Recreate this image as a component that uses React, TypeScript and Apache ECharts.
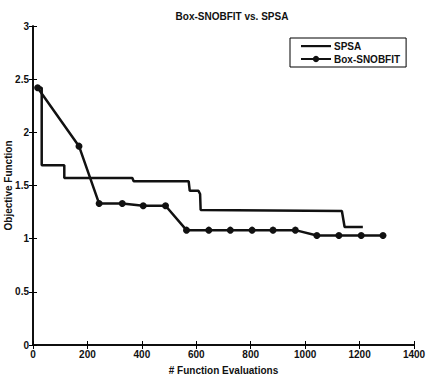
import React, { useEffect, useRef } from "react";
import * as echarts from "echarts";

const titleText = "Box-SNOBFIT vs. SPSA";
const xLabel = "# Function Evaluations";
const yLabel = "Objective Function";

const spsaX = [15, 32, 32, 115, 115, 365, 370, 572, 576, 608, 614, 616, 1135, 1145, 1212];
const spsaY = [2.42, 2.42, 1.69, 1.69, 1.57, 1.57, 1.54, 1.54, 1.45, 1.45, 1.42, 1.27, 1.26, 1.11, 1.11];

const boxX = [17, 169, 243, 328, 405, 487, 564, 646, 725, 805, 882, 964, 1043, 1124, 1206, 1286];
const boxY = [2.42, 1.87, 1.33, 1.33, 1.31, 1.31, 1.08, 1.08, 1.08, 1.08, 1.08, 1.08, 1.03, 1.03, 1.03, 1.03];

const FONT = "Liberation Sans, Arial, sans-serif";

export default function App() {
  const ref = useRef<HTMLDivElement>(null);
  useEffect(() => {
    if (!ref.current) return;
    const chart = echarts.init(ref.current, null, { renderer: "svg" });
    const axisLine = { show: true, lineStyle: { color: "#000", width: 1.5 } };
    const tick = { show: true, inside: true, length: 4, lineStyle: { color: "#000", width: 1 } };
    const labelStyle = { fontFamily: FONT, fontSize: 10, fontWeight: "bold", color: "#111" };
    chart.setOption({
      animation: false,
      backgroundColor: "#fff",
      title: {
        text: titleText,
        left: 227,
        textAlign: "center",
        top: 6,
        textStyle: { ...labelStyle },
      },
      legend: {
        left: 290,
        top: 38,
        orient: "vertical",
        backgroundColor: "#fff",
        borderColor: "#000",
        borderWidth: 1,
        borderRadius: 0,
        padding: [3, 6, 3, 10],
        itemGap: 3,
        itemWidth: 30,
        itemHeight: 8,
        textStyle: { ...labelStyle, padding: [0, 0, 0, -2] },
        data: [
          { name: "SPSA", icon: "path://M0,0 M30,8 M0,3 L30,3 L30,5.2 L0,5.2 Z" },
          { name: "Box-SNOBFIT" },
        ],
      },
      grid: { left: 33, right: 12, top: 26, bottom: 37, containLabel: false, outerBoundsMode: "none" },
      xAxis: [
        {
          type: "value",
          min: 0,
          max: 1400,
          interval: 200,
          axisLine,
          axisTick: tick,
          splitLine: { show: false },
          axisLabel: { ...labelStyle, margin: 4, formatter: (v: number) => String(v) },
          name: xLabel,
          nameLocation: "middle",
          nameGap: 20,
          nameMoveOverlap: false,
          nameTextStyle: { ...labelStyle },
        },
        {
          type: "value",
          position: "top",
          min: 0,
          max: 1400,
          interval: 200,
          axisLine,
          axisTick: tick,
          splitLine: { show: false },
          axisLabel: { show: false },
        },
      ],
      yAxis: [
        {
          type: "value",
          min: 0,
          max: 3,
          interval: 0.5,
          axisLine,
          axisTick: tick,
          splitLine: { show: false },
          axisLabel: { ...labelStyle, margin: 4, formatter: (v: number) => String(v) },
          name: yLabel,
          nameLocation: "middle",
          nameGap: 20,
          nameMoveOverlap: false,
          nameTextStyle: { ...labelStyle },
        },
        {
          type: "value",
          position: "right",
          min: 0,
          max: 3,
          interval: 0.5,
          axisLine,
          axisTick: tick,
          splitLine: { show: false },
          axisLabel: { show: false },
        },
      ],
      series: [
        {
          name: "SPSA",
          type: "line",
          symbol: "none",
          data: spsaX.map((x, i) => [x, spsaY[i]]),
          lineStyle: { color: "#111", width: 2.5 },
          itemStyle: { color: "#111" },
        },
        {
          name: "Box-SNOBFIT",
          type: "line",
          symbol: "circle",
          symbolSize: 7,
          data: boxX.map((x, i) => [x, boxY[i]]),
          lineStyle: { color: "#111", width: 2.5 },
          itemStyle: { color: "#111" },
        },
      ],
    });
    return () => chart.dispose();
  }, []);
  return <div ref={ref} style={{ width: 426, height: 382, position: "absolute", left: 0, top: 0 }} />;
}
